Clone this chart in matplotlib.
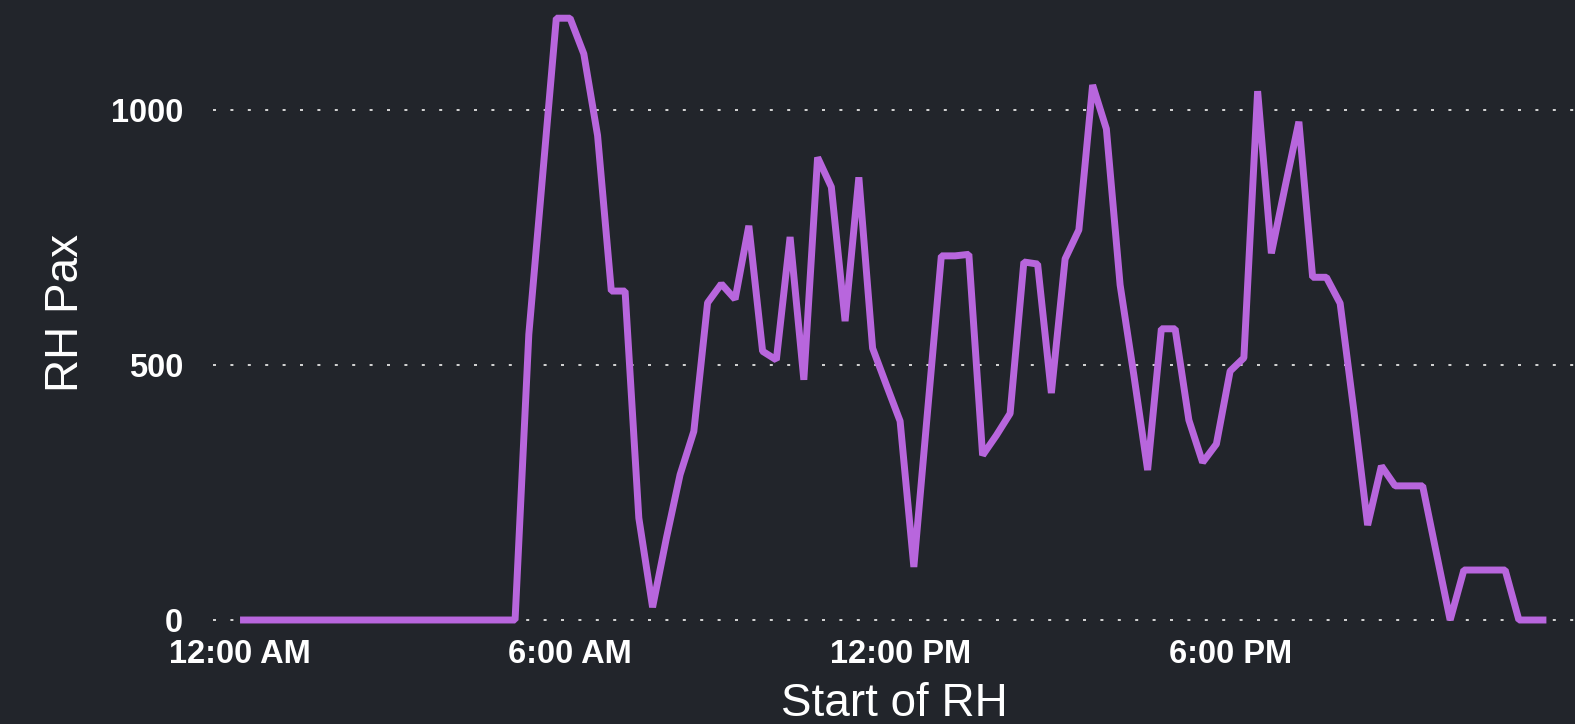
import pandas as pd
import matplotlib
matplotlib.use('Agg')
import matplotlib.pyplot as plt
import matplotlib.dates as mdates
from matplotlib.ticker import FixedLocator

plt.rcParams['font.family'] = ['Liberation Sans', 'DejaVu Sans']

# 15-minute buckets for one day, starting at midnight
start_times = pd.date_range('2024-01-01 00:00', periods=96, freq='15min')

rh_pax = [
    0, 0, 0, 0, 0, 0, 0, 0, 0, 0, 0, 0, 0, 0, 0, 0, 0, 0, 0, 0,   # 00:00 - 04:45
    0, 560, 870, 1180,                                           # 05:00 - 05:45
    1180, 1110, 950, 645,                                        # 06:00 - 06:45
    645, 200, 25, 160,                                           # 07:00 - 07:45
    285, 370, 622, 659,                                          # 08:00 - 08:45
    629, 773, 527, 510,                                          # 09:00 - 09:45
    751, 471, 907, 849,                                          # 10:00 - 10:45
    586, 868, 533, 461,                                          # 11:00 - 11:45
    390, 104, 410, 714,                                          # 12:00 - 12:45
    714, 717, 323, 362,                                          # 13:00 - 13:45
    405, 702, 698, 445,                                          # 14:00 - 14:45
    708, 765, 1049, 963,                                         # 15:00 - 15:45
    657, 480, 294, 571,                                          # 16:00 - 16:45
    571, 392, 309, 345,                                          # 17:00 - 17:45
    488, 514, 1037, 719,                                         # 18:00 - 18:45
    850, 977, 672, 672,                                          # 19:00 - 19:45
    621, 410, 186, 302,                                          # 20:00 - 20:45
    263, 263, 263, 131,                                          # 21:00 - 21:45
    0, 98, 98, 98,                                               # 22:00 - 22:45
    98, 0, 0, 0,                                                 # 23:00 - 23:45
]

tick_times = pd.to_datetime(['2024-01-01 00:00', '2024-01-01 06:00',
                             '2024-01-01 12:00', '2024-01-01 18:00'])
tick_labels = ['12:00 AM', '6:00 AM', '12:00 PM', '6:00 PM']
y_ticks = [0, 500, 1000]
y_tick_labels = ['0', '500', '1000']

bg = '#22252b'
fig = plt.figure(figsize=(15.75, 7.24), dpi=100, facecolor=bg)
ax = fig.add_axes([213 / 1575, 99 / 724, 1 - 213 / 1575, 625 / 724])
ax.set_facecolor(bg)

ax.plot(start_times, rh_pax, color='#b866dd', linewidth=5,
        solid_joinstyle='bevel', solid_capstyle='butt')

# axis limits
ax.set_xlim(start_times[0] - pd.Timedelta(minutes=29.5),
            start_times[0] + pd.Timedelta(hours=24.27))
ax.set_ylim(-9.8, 1215.7)

# ticks
ax.xaxis.set_major_locator(FixedLocator(mdates.date2num(tick_times)))
ax.set_xticklabels(tick_labels)
ax.set_yticks(y_ticks)
ax.set_yticklabels(y_tick_labels)
ax.tick_params(axis='both', length=0, colors='white', labelsize=23.5)
ax.tick_params(axis='y', pad=21.5)
ax.tick_params(axis='x', pad=10)
for lbl in ax.get_xticklabels() + ax.get_yticklabels():
    lbl.set_fontweight('bold')

# dotted horizontal grid
ax.grid(axis='y', color='#d0d0d0', linewidth=1.44, linestyle=(0, (1.5, 7.2)))
ax.grid(axis='x', visible=False)
ax.set_axisbelow(True)

for s in ax.spines.values():
    s.set_visible(False)

ax.set_xlabel('Start of RH', color='white', fontsize=33)
ax.set_ylabel('RH Pax', color='white', fontsize=33)
ax.xaxis.set_label_coords(0.5, -0.091)
ax.yaxis.set_label_coords(-0.092, 0.5)

fig.savefig('out.png', dpi=100, facecolor=bg)
